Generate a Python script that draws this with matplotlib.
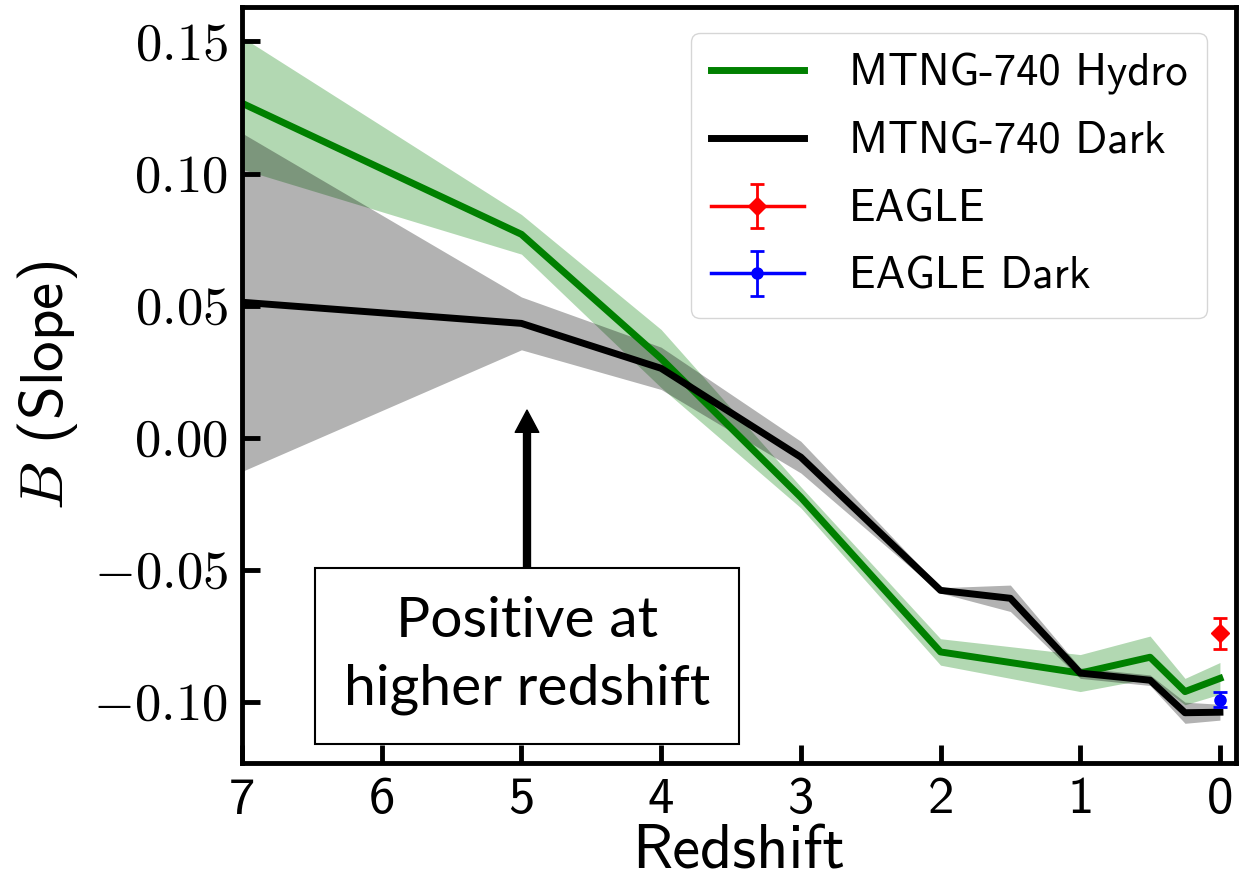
import numpy as np
import matplotlib
matplotlib.use('Agg')
import matplotlib.pyplot as plt

plt.rcParams['font.family'] = ['cmss10', 'DejaVu Sans']
plt.rcParams['mathtext.fontset'] = 'cm'
plt.rcParams['axes.unicode_minus'] = False

# redshift snapshots
z = [7, 5, 4, 3, 2, 1.5, 1, 0.5, 0.25, 0]

hydro = [0.1266, 0.077, 0.030, -0.0225, -0.081, -0.085, -0.089, -0.083, -0.096, -0.091]
hydro_err = [0.025, 0.0075, 0.011, 0.004, 0.005, 0.006, 0.007, 0.008, 0.005, 0.006]

dark = [0.0513, 0.0433, 0.0263, -0.0073, -0.0577, -0.0607, -0.089, -0.0917, -0.104, -0.1038]
dark_err = [0.064, 0.010, 0.008, 0.006, 0.001, 0.005, 0.002, 0.002, 0.004, 0.003]

eagle_z, eagle_b, eagle_err = 0, -0.074, 0.006
eagle_dark_z, eagle_dark_b, eagle_dark_err = 0, -0.099, 0.003

yticks = [-0.10, -0.05, 0.00, 0.05, 0.10, 0.15]
ytick_labels = [r'$-0.10$', r'$-0.05$', r'$0.00$', r'$0.05$', r'$0.10$', r'$0.15$']
xticks = [7, 6, 5, 4, 3, 2, 1, 0]

hydro = np.array(hydro); hydro_err = np.array(hydro_err)
dark = np.array(dark); dark_err = np.array(dark_err)

fig = plt.figure(figsize=(12.5, 8.85), dpi=100)
ax = fig.add_axes([0.1936, 0.1379, 0.7952, 0.8542])

ax.plot(z, hydro, color='green', lw=5, label='MTNG-740 Hydro')
ax.fill_between(z, hydro - hydro_err, hydro + hydro_err, color='green', alpha=0.3, lw=0)
ax.plot(z, dark, color='black', lw=5, label='MTNG-740 Dark')
ax.fill_between(z, dark - dark_err, dark + dark_err, color='black', alpha=0.3, lw=0)

ax.errorbar(eagle_z, eagle_b, yerr=eagle_err, color='red', marker='D', ms=9,
            capsize=5, elinewidth=2, capthick=2, lw=2.5, label='EAGLE')
ax.errorbar(eagle_dark_z, eagle_dark_b, yerr=eagle_dark_err, color='blue', marker='o', ms=8,
            capsize=5, elinewidth=2, capthick=2, lw=2.5, label='EAGLE Dark')

ax.annotate('Positive at\nhigher redshift', xy=(4.96, 0.0105), xytext=(4.96, -0.0825),
            ha='center', va='center', fontsize=41, family='Lato', linespacing=1.4,
            arrowprops=dict(facecolor='black', edgecolor='black', width=5, headwidth=17,
                            headlength=16, shrink=0),
            bbox=dict(boxstyle='square,pad=0.5', fc='white', ec='black', lw=1.5))

ax.set_xlim(7, -0.115)
ax.set_ylim(-0.123, 0.163)
ax.set_xticks(xticks)
ax.set_xticklabels([str(t) for t in xticks])
ax.set_yticks(yticks)
ax.set_yticklabels(ytick_labels)

ax.tick_params(direction='in', length=13, width=3.5, labelsize=38, pad=10,
               top=False, right=False)
for s in ax.spines.values():
    s.set_linewidth(3.5)

ax.set_xlabel('Redshift', fontsize=45, labelpad=1)
ax.set_ylabel(r'$B$ (Slope)', fontsize=44, labelpad=10)

ax.legend(loc='upper right', fontsize=32, handlelength=2.1, handletextpad=1.0,
          borderpad=0.45, labelspacing=0.6, borderaxespad=0,
          bbox_to_anchor=(0.971, 0.9656))

fig.savefig('out.png', dpi=100)
